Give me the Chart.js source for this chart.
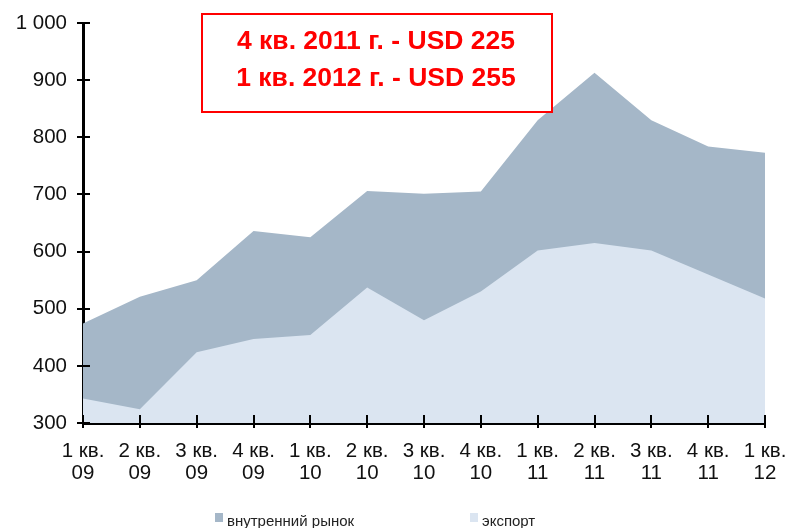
<!DOCTYPE html>
<html><head><meta charset="utf-8">
<script src="https://cdn.jsdelivr.net/npm/chart.js@4/dist/chart.umd.min.js"></script>
<style>html,body{margin:0;padding:0;background:#fff}#wrap{width:789px;height:528px}</style>
</head><body><div id="wrap"><canvas id="c" width="789" height="528"></canvas></div>
<script>
const categories = [
  ['1 кв.','09'],['2 кв.','09'],['3 кв.','09'],['4 кв.','09'],
  ['1 кв.','10'],['2 кв.','10'],['3 кв.','10'],['4 кв.','10'],
  ['1 кв.','11'],['2 кв.','11'],['3 кв.','11'],['4 кв.','11'],
  ['1 кв.','12']
];
const domesticValues = [474, 521, 550, 636, 625, 706, 701, 705, 830, 913, 830, 784, 773];
const exportValues   = [343, 324, 424, 447, 454, 537, 480, 530, 602, 615, 602, 560, 518];
const yMin = 300, yMax = 1000, yStep = 100;
const seriesNames = ['внутренний рынок', 'экспорт'];
const seriesColors = ['#A5B7C8', '#DBE5F1'];
const noteLines = ['4 кв. 2011 г. - USD 225', '1 кв. 2012 г. - USD 255'];

const FONT = 'Arial, "Liberation Sans", sans-serif';

function fmt(v){ return String(v).replace(/\B(?=(\d{3})+(?!\d))/g, ' '); }

const tickMarks = {
  id: 'tickMarks',
  afterDraw(chart){
    const ctx = chart.ctx, x = chart.scales.x, y = chart.scales.y;
    const a = chart.chartArea;
    ctx.save();
    ctx.strokeStyle = '#000';
    ctx.lineWidth = 2;
    ctx.beginPath();
    y.ticks.forEach((t,i)=>{
      const py = Math.round(y.getPixelForTick(i));
      ctx.moveTo(a.left-6, py); ctx.lineTo(a.left+7, py);
    });
    x.ticks.forEach((t,i)=>{
      const px = Math.round(x.getPixelForTick(i));
      ctx.moveTo(px, a.bottom-8); ctx.lineTo(px, a.bottom+5);
    });
    ctx.stroke();
    ctx.restore();
  }
};

const noteBox = {
  id: 'noteBox',
  afterDraw(chart){
    const ctx = chart.ctx;
    ctx.save();
    ctx.fillStyle = '#fff';
    ctx.fillRect(202, 14, 350, 98);
    ctx.strokeStyle = '#FF0000';
    ctx.lineWidth = 2;
    ctx.strokeRect(202, 14, 350, 98);
    ctx.fillStyle = '#FF0000';
    ctx.font = 'bold 26.5px ' + FONT;
    ctx.textAlign = 'center';
    ctx.textBaseline = 'alphabetic';
    ctx.fillText(noteLines[0], 376, 49);
    ctx.fillText(noteLines[1], 376, 86);
    ctx.restore();
  }
};

const customLegend = {
  id: 'customLegend',
  afterDraw(chart){
    const ctx = chart.ctx;
    const boxX = [215, 470];
    ctx.save();
    ctx.font = '15px ' + FONT;
    ctx.textBaseline = 'alphabetic';
    ctx.textAlign = 'left';
    chart.data.datasets.forEach((ds, i)=>{
      ctx.fillStyle = ds.backgroundColor;
      ctx.fillRect(boxX[i], 513, 8, 9);
      ctx.fillStyle = '#222';
      ctx.fillText(ds.label, boxX[i] + 12, 526);
    });
    ctx.restore();
  }
};

new Chart(document.getElementById('c'), {
  type: 'line',
  data: {
    labels: categories,
    datasets: [
      { label: seriesNames[0], data: domesticValues, backgroundColor: seriesColors[0], borderWidth: 0, pointRadius: 0, fill: 'start', order: 1, tension: 0 },
      { label: seriesNames[1], data: exportValues, backgroundColor: seriesColors[1], borderWidth: 0, pointRadius: 0, fill: 'start', order: 0, tension: 0 }
    ]
  },
  options: {
    responsive: false,
    animation: false,
    devicePixelRatio: 1,
    layout: { padding: { top: 23, right: 24, bottom: 45, left: 0 } },
    plugins: { legend: { display: false }, tooltip: { enabled: false } },
    scales: {
      x: {
        offset: false,
        z: 1,
        grid: { display: true, drawOnChartArea: false, drawTicks: false },
        border: { display: true, color: '#000', width: 3 },
        ticks: { color: '#111', font: { size: 20.5, family: FONT, lineHeight: 1.1 }, padding: 17, maxRotation: 0, autoSkip: false },
        afterFit(s){ s.height = 60; s.paddingLeft = 0; s.paddingRight = 0; }
      },
      y: {
        min: yMin, max: yMax,
        z: 1,
        grid: { display: true, drawOnChartArea: false, drawTicks: false },
        border: { display: true, color: '#000', width: 3 },
        ticks: { stepSize: yStep, color: '#111', font: { size: 20.5, family: FONT }, padding: 16, callback: v => fmt(v) },
        afterFit(s){ s.width = 83; s.paddingTop = 0; s.paddingBottom = 0; }
      }
    }
  },
  plugins: [tickMarks, noteBox, customLegend]
});
</script>
</body></html>
